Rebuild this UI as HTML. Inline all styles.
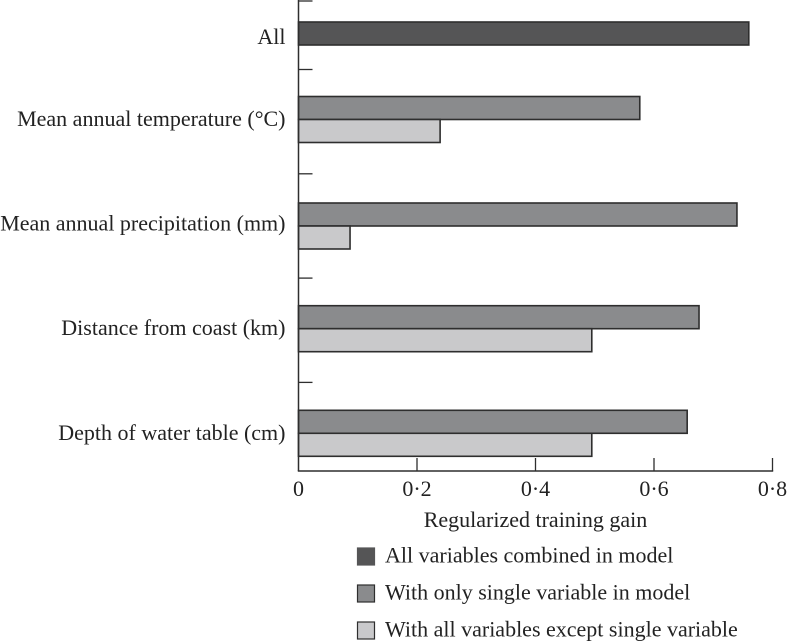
<!DOCTYPE html>
<html>
<head>
<meta charset="utf-8">
<title>Regularized training gain</title>
<style>
html,body{margin:0;padding:0;background:#fff;}
svg{display:block;}
text{font-family:"Liberation Serif",serif;font-size:22px;fill:#222;}
</style>
</head>
<body>
<svg id="chart" xmlns="http://www.w3.org/2000/svg" width="787" height="643" viewBox="0 0 787 643">
  <g id="bars"></g>
  <g id="axes"></g>
  <g id="legend"></g>
</svg>
<script>
const categories = ["All", "Mean annual temperature (°C)", "Mean annual precipitation (mm)", "Distance from coast (km)", "Depth of water table (cm)"];
const combinedValues = [0.76, null, null, null, null];
const singleValues = [null, 0.576, 0.74, 0.676, 0.656];
const exceptValues = [null, 0.239, 0.087, 0.495, 0.495];
const xTicks = [0, 0.2, 0.4, 0.6, 0.8];
const xTickLabels = ["0", "0·2", "0·4", "0·6", "0·8"];
const xTitle = "Regularized training gain";
const legendLabels = ["All variables combined in model", "With only single variable in model", "With all variables except single variable"];

const NS = "http://www.w3.org/2000/svg";
const colors = ["#555556", "#8a8b8d", "#c9c9cb"];
const stroke = "#2e2e2e";
const plotLeft = 298.5, plotRight = 772.5, plotBottom = 471;
function x(v) { return plotLeft + (v / 0.8) * (plotRight - plotLeft); }
function labelCenter(i) { return i === 0 ? 37 : 119 + (i - 1) * 104.6; }
function bandCenter(i) {
  if (i === 0) return 33.5;
  if (i === 2) return 226;
  return 119.5 + (i - 1) * 104.6;
}
function bandTick(i) { return i === 0 ? 1 : 69.5 + (i - 1) * 104.3; }
function make(tag, attrs, parent, text) {
  const el = document.createElementNS(NS, tag);
  for (const k in attrs) el.setAttribute(k, attrs[k]);
  if (text !== undefined) el.textContent = text;
  parent.appendChild(el);
  return el;
}
const barsG = document.getElementById("bars");
const axesG = document.getElementById("axes");
const legendG = document.getElementById("legend");
const barH = 23;
function drawBar(v, top, fill, name) {
  if (v === null) return;
  const r = make("rect", {x: plotLeft, y: top, width: x(v) - plotLeft, height: barH, fill: fill, stroke: stroke, "stroke-width": 1.6}, barsG);
  
  
}
categories.forEach(function (c, i) {
  const cy = bandCenter(i);
  drawBar(combinedValues[i], cy - barH / 2, colors[0], "bar-combined-" + i);
  drawBar(singleValues[i], cy - barH, colors[1], "bar-single-" + i);
  drawBar(exceptValues[i], cy, colors[2], "bar-except-" + i);
  const t = make("text", {x: 285.5, y: labelCenter(i) + 7, "text-anchor": "end"}, axesG, c);
  
  
  const tick = make("line", {x1: plotLeft, x2: plotLeft + 14, y1: bandTick(i), y2: bandTick(i), stroke: stroke, "stroke-width": 1.3}, axesG);
  
  
});
const yAxis = make("line", {x1: plotLeft, x2: plotLeft, y1: 0, y2: plotBottom, stroke: stroke, "stroke-width": 1.5}, axesG);


const xAxis = make("line", {x1: plotLeft - 0.7, x2: plotRight + 0.7, y1: plotBottom, y2: plotBottom, stroke: stroke, "stroke-width": 1.5}, axesG);


xTicks.forEach(function (v, i) {
  if (v > 0) {
    const tk = make("line", {x1: x(v), x2: x(v), y1: plotBottom - 13, y2: plotBottom, stroke: stroke, "stroke-width": 1.3}, axesG);
    
    
  }
  const lb = make("text", {x: x(v), y: 496, "text-anchor": "middle"}, axesG, xTickLabels[i]);
  
  
});
const xt = make("text", {x: 535.5, y: 527, "text-anchor": "middle"}, axesG, xTitle);


legendLabels.forEach(function (label, i) {
  const rowY = 556.5 + i * 37;
  const sw = make("rect", {x: 357.5, y: rowY - 8.5, width: 17, height: 17, fill: colors[i], stroke: i === 0 ? colors[0] : stroke, "stroke-width": 1.2}, legendG);
  
  
  const lt = make("text", {x: 385, y: rowY + 6}, legendG, label);
  
  
});
</script>
</body>
</html>
